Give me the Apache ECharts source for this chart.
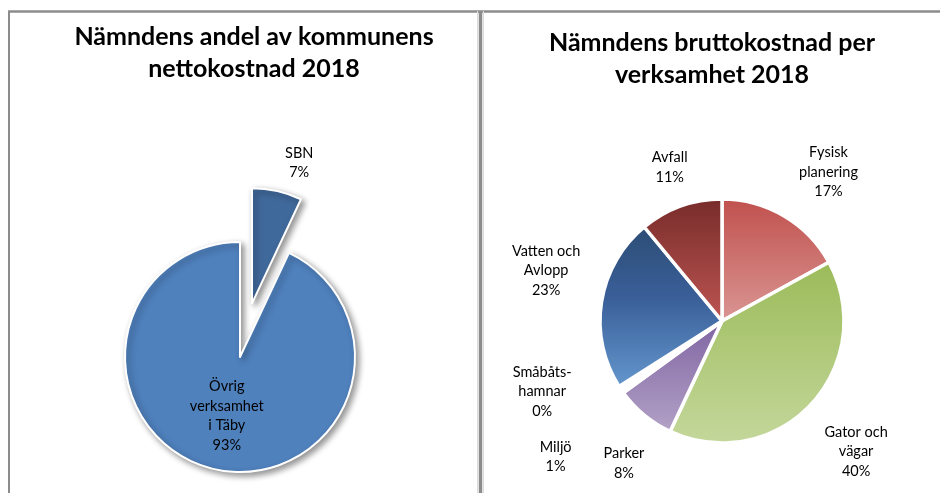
<!DOCTYPE html>
<html>
<head>
<meta charset="utf-8">
<script src="https://cdn.jsdelivr.net/npm/echarts@6/dist/echarts.min.js"></script>
<style>
  html, body { margin: 0; padding: 0; background: #ffffff; }
  #chart { width: 940px; height: 493px; }
</style>
</head>
<body>
<div id="chart"></div>
<script>
// Nämndens andel av kommunens nettokostnad 2018 (procent)
const shareNames = ['SBN', 'Övrig\nverksamhet\ni Täby'];
const shareValues = [7, 93];

// Nämndens bruttokostnad per verksamhet 2018 (procent)
const costNames = ['Fysisk\nplanering', 'Gator och\nvägar', 'Parker', 'Miljö', 'Småbåts-\nhamnar', 'Vatten och\nAvlopp', 'Avfall'];
const costValues = [17, 40, 8, 1, 0, 23, 11];

const chartTitles = [
  'Nämndens andel av kommunens\nnettokostnad 2018',
  'Nämndens bruttokostnad per\nverksamhet 2018'
];

// ---- styling / layout ----
const FONT = 'Lato, "Noto Sans", sans-serif';
const sharePie = { cx: 240, cy: 357, r: 115, explode: 55 };
const costPie = { cx: 722, cy: 321, r: 122 };

const shareColors = ['#40699b', '#4f81bd'];
const shareExploded = [true, false];
// vertical gradient stops per slice
const costGradients = [
  [[0, '#c0504d'], [1, '#da9694']],
  [[0, '#9bbb59'], [1, '#c4d79b']],
  [[0, '#8064a2'], [1, '#b3a2c7']],
  [[0, '#ffffff'], [1, '#ffffff']],
  [[0, '#4bacc6'], [1, '#93cddd']],
  [[0, '#2c4d75'], [0.45, '#3a5f99'], [1, '#6497cd']],
  [[0, '#772c2a'], [1, '#bd5552']]
];
// label placement tweaks: extra angle (deg) and extra distance (px)
const costLabelAngle = [5, 1, -5, -5, 11, 7, 1];
const costLabelDist = [0, 2, 3, 48, 13, 0, -4];
const shareLabelAngle = 6;

function midAngles(values) {
  const total = values.reduce((a, b) => a + b, 0);
  let acc = 0;
  return values.map(v => {
    const m = (acc + v / 2) / total * 360;
    acc += v;
    return m;
  });
}

// place a label box just outside the rim along a direction from the centre
function outsidePos(cx, cy, r, angleDeg, w, h, gap) {
  const rad = angleDeg * Math.PI / 180;
  const dx = Math.sin(rad), dy = -Math.cos(rad);
  const ext = Math.abs(dx) * w / 2 + Math.abs(dy) * h / 2;
  const d = r + gap + ext;
  return { x: cx + dx * d, y: cy + dy * d, align: 'center', verticalAlign: 'middle' };
}

const costMid = midAngles(costValues);
const shareMid = midAngles(shareValues);

// centre of the pulled-out slice
const explodeRad = shareMid[0] * Math.PI / 180;
const explodedCenter = [
  sharePie.cx + Math.sin(explodeRad) * sharePie.explode,
  sharePie.cy - Math.cos(explodeRad) * sharePie.explode
];

const labelText = {
  color: '#000000',
  fontFamily: FONT,
  fontSize: 14.5,
  lineHeight: 19.5,
  align: 'center',
  verticalAlign: 'middle'
};

const titleText = { fontFamily: FONT, fontWeight: 'bold', fontSize: 25, lineHeight: 32, color: '#000' };

const sliceShadow = {
  borderColor: '#ffffff',
  borderWidth: 2,
  shadowBlur: 6,
  shadowOffsetX: 3,
  shadowOffsetY: 3,
  shadowColor: 'rgba(0,0,0,0.42)'
};
const hiddenSlice = { color: 'rgba(0,0,0,0)', borderWidth: 0, shadowBlur: 0, shadowColor: 'rgba(0,0,0,0)' };

// one layer for the slices that stay in place, one for the pulled-out slice
function shareSeries(exploded) {
  return {
    type: 'pie',
    center: exploded ? explodedCenter : [sharePie.cx, sharePie.cy],
    radius: sharePie.r,
    startAngle: 90,
    clockwise: true,
    silent: true,
    emphasis: { disabled: true },
    itemStyle: sliceShadow,
    labelLine: { show: false },
    data: shareValues.map((v, i) => {
      const visible = shareExploded[i] === exploded;
      return {
        name: shareNames[i],
        value: v,
        itemStyle: visible ? { color: shareColors[i] } : hiddenSlice,
        label: Object.assign({
          show: visible,
          position: shareExploded[i] ? 'outside' : 'inside',
          formatter: '{b}\n{c}%'
        }, labelText)
      };
    }),
    labelLayout: function (p) {
      if (!shareExploded[p.dataIndex]) return {};
      return outsidePos(explodedCenter[0], explodedCenter[1], sharePie.r,
        shareMid[p.dataIndex] + shareLabelAngle, p.labelRect.width, p.labelRect.height, 10);
    }
  };
}

const chart = echarts.init(document.getElementById('chart'));

const option = {
  backgroundColor: '#ffffff',
  animation: false,
  title: [
    { text: chartTitles[0], left: 254, top: 21, padding: 0, textAlign: 'center', textStyle: titleText },
    { text: chartTitles[1], left: 712, top: 27, padding: 0, textAlign: 'center', textStyle: titleText }
  ],
  graphic: [
    { type: 'line', shape: { x1: 8, y1: 11.5, x2: 940, y2: 11.5 }, style: { stroke: '#8c8c8c', lineWidth: 2.5 } },
    { type: 'line', shape: { x1: 9, y1: 11, x2: 9, y2: 493 }, style: { stroke: '#8c8c8c', lineWidth: 2 } },
    { type: 'line', shape: { x1: 480.5, y1: 11, x2: 480.5, y2: 493 }, style: { stroke: '#8c8c8c', lineWidth: 3.5 } },
    { type: 'line', shape: { x1: 477.5, y1: 11, x2: 477.5, y2: 493 }, style: { stroke: '#dcdcdc', lineWidth: 1 } },
    { type: 'line', shape: { x1: 483.5, y1: 11, x2: 483.5, y2: 493 }, style: { stroke: '#dcdcdc', lineWidth: 1 } }
  ],
  series: [
    shareSeries(false),
    shareSeries(true),
    {
      type: 'pie',
      center: [costPie.cx, costPie.cy],
      radius: costPie.r,
      startAngle: 90,
      clockwise: true,
      silent: true,
      emphasis: { disabled: true },
      itemStyle: { borderColor: '#ffffff', borderWidth: 3.5 },
      labelLine: { show: false },
      data: costValues.map((v, i) => ({
        name: costNames[i],
        value: v,
        itemStyle: {
          color: new echarts.graphic.LinearGradient(0, 0, 0, 1,
            costGradients[i].map(s => ({ offset: s[0], color: s[1] })))
        },
        label: Object.assign({ show: true, position: 'outside', formatter: '{b}\n{c}%' }, labelText)
      })),
      labelLayout: function (p) {
        const i = p.dataIndex;
        return outsidePos(costPie.cx, costPie.cy, costPie.r + costLabelDist[i],
          costMid[i] + costLabelAngle[i], p.labelRect.width, p.labelRect.height, 20);
      }
    }
  ]
};

chart.setOption(option);
</script>
</body>
</html>
